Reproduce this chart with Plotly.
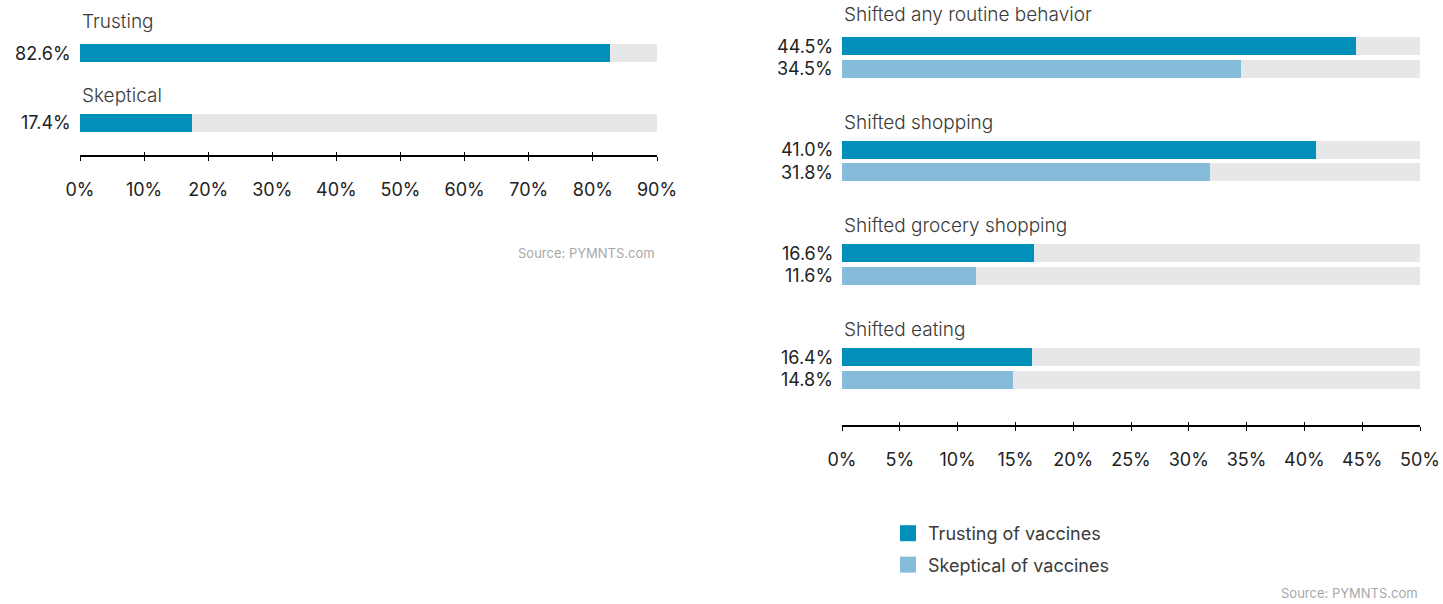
import plotly.graph_objects as go

# ---- data ----
left_categories = ["Trusting", "Skeptical"]
left_values = [82.6, 17.4]

right_categories = [
    "Shifted any routine behavior",
    "Shifted shopping",
    "Shifted grocery shopping",
    "Shifted eating",
]
trusting_values = [44.5, 41.0, 16.6, 16.4]
skeptical_values = [34.5, 31.8, 11.6, 14.8]
series_names = ["Trusting of vaccines", "Skeptical of vaccines"]

left_ticks = list(range(0, 91, 10))
right_ticks = list(range(0, 51, 5))
source_text = "Source: PYMNTS.com"

# ---- style ----
W, H = 1443, 604
DARK = "#0090BA"
LIGHT = "#85BCDA"
TRACK = "#E6E7E9"
FONT = "Inter, Lato, sans-serif"
BAR_H = 18

# vertical layout (pixel rows; y axis maps 1:1 to pixels)
left_first, left_step = 53, 69.5
right_first, right_step, pair_gap = 46, 103.7, 22.5
title_gap, first_extra = 27.5, 4.5
left_axis_y, right_axis_y = 156, 426

fig = go.Figure()


def add_panel(xa, xmax, centers, values, colors):
    # grey track behind each bar
    fig.add_trace(go.Bar(
        x=[xmax] * len(centers), y=centers, orientation="h", width=BAR_H,
        marker=dict(color=TRACK, line=dict(width=0)), xaxis=xa, yaxis="y",
        showlegend=False, hoverinfo="skip"))
    fig.add_trace(go.Bar(
        x=values, y=centers, orientation="h", width=BAR_H,
        marker=dict(color=colors, line=dict(width=0)), xaxis=xa, yaxis="y",
        showlegend=False, hovertemplate="%{x:.1f}%<extra></extra>"))
    for c, v in zip(centers, values):
        fig.add_annotation(x=0, y=c, xref=xa, yref="y", text=f"{v:.1f}%",
                           xanchor="right", yanchor="middle", xshift=-7,
                           showarrow=False, font=dict(size=18, color="#222"))


def add_titles(xa, titles, bar_centers):
    for i, (t, c) in enumerate(zip(titles, bar_centers)):
        gap = title_gap + (first_extra if i == 0 else 0)
        fig.add_annotation(x=0, y=c - gap, xref=xa, yref="y", text=t,
                           xanchor="left", yanchor="middle", xshift=0,
                           showarrow=False,
                           font=dict(size=19, color="#3a3a3a", weight=300))


# left panel
lc = [left_first + i * left_step for i in range(len(left_categories))]
add_panel("x", max(left_ticks), lc, left_values, DARK)
add_titles("x", left_categories, lc)

# right panel
rc1 = [right_first + i * right_step for i in range(len(right_categories))]
rc2 = [c + pair_gap for c in rc1]
add_panel("x2", max(right_ticks), rc1 + rc2,
          trusting_values + skeptical_values,
          [DARK] * len(rc1) + [LIGHT] * len(rc2))
add_titles("x2", right_categories, rc1)

# legend entries
for name, col in zip(series_names, [DARK, LIGHT]):
    fig.add_trace(go.Scatter(x=[None], y=[None], mode="markers", name=name,
                             legendgroup=name, xaxis="x2", yaxis="y",
                             marker=dict(symbol="square", size=16, color=col)))


def axis(dom, tick_list, ypix, **kw):
    return dict(domain=dom, range=[0, max(tick_list)], anchor="free",
                position=1 - ypix / H, tickvals=tick_list,
                ticktext=[f"{t}%" for t in tick_list], showgrid=False,
                zeroline=False, fixedrange=True, automargin=False, **kw)


ldom = [80 / W, 657 / W]
rdom = [842 / W, 1420 / W]
tickfont = dict(size=18, color="#222")

fig.update_layout(
    template="none",
    width=W, height=H, margin=dict(l=0, r=0, t=0, b=0, autoexpand=False),
    paper_bgcolor="white", plot_bgcolor="white",
    font=dict(family=FONT, color="#222"),
    barmode="overlay", bargap=0,
    yaxis=dict(domain=[0, 1], range=[H, 0], visible=False, fixedrange=True,
               automargin=False),
    xaxis=axis(ldom, left_ticks, left_axis_y, showline=True, linecolor="black",
               linewidth=1.5, ticks="outside", ticklen=4, tickwidth=1.2,
               tickcolor="black", tickfont=tickfont, ticklabelstandoff=14),
    xaxis3=axis(ldom, left_ticks, left_axis_y, overlaying="x", ticks="inside",
                ticklen=4, tickwidth=1.2, tickcolor="black",
                showticklabels=False, showline=False),
    xaxis2=axis(rdom, right_ticks, right_axis_y, showline=True,
                linecolor="black", linewidth=1.5, ticks="outside", ticklen=4,
                tickwidth=1.2, tickcolor="black", tickfont=tickfont,
                ticklabelstandoff=14),
    xaxis4=axis(rdom, right_ticks, right_axis_y, overlaying="x2",
                ticks="inside", ticklen=4, tickwidth=1.2, tickcolor="black",
                showticklabels=False, showline=False),
    legend=dict(x=888 / W, y=1 - 515 / H, xanchor="left", yanchor="top",
                font=dict(size=18, color="#3a3a3a"), tracegroupgap=5,
                bgcolor="rgba(0,0,0,0)", borderwidth=0),
    showlegend=True,
)

# dummy traces to make the overlay axes render their ticks
fig.add_trace(go.Scatter(x=[None], y=[None], xaxis="x3", yaxis="y",
                         showlegend=False, hoverinfo="skip"))
fig.add_trace(go.Scatter(x=[None], y=[None], xaxis="x4", yaxis="y",
                         showlegend=False, hoverinfo="skip"))

fig.add_annotation(x=657 / W, y=1 - 253 / H, xref="paper", yref="paper",
                   text=source_text, xanchor="right", yanchor="middle",
                   showarrow=False, font=dict(size=13, color="#a8a8a8"))
fig.add_annotation(x=1420 / W, y=1 - 593 / H, xref="paper", yref="paper",
                   text=source_text, xanchor="right", yanchor="middle",
                   showarrow=False, font=dict(size=13, color="#a8a8a8"))

fig.write_html("out.html")
